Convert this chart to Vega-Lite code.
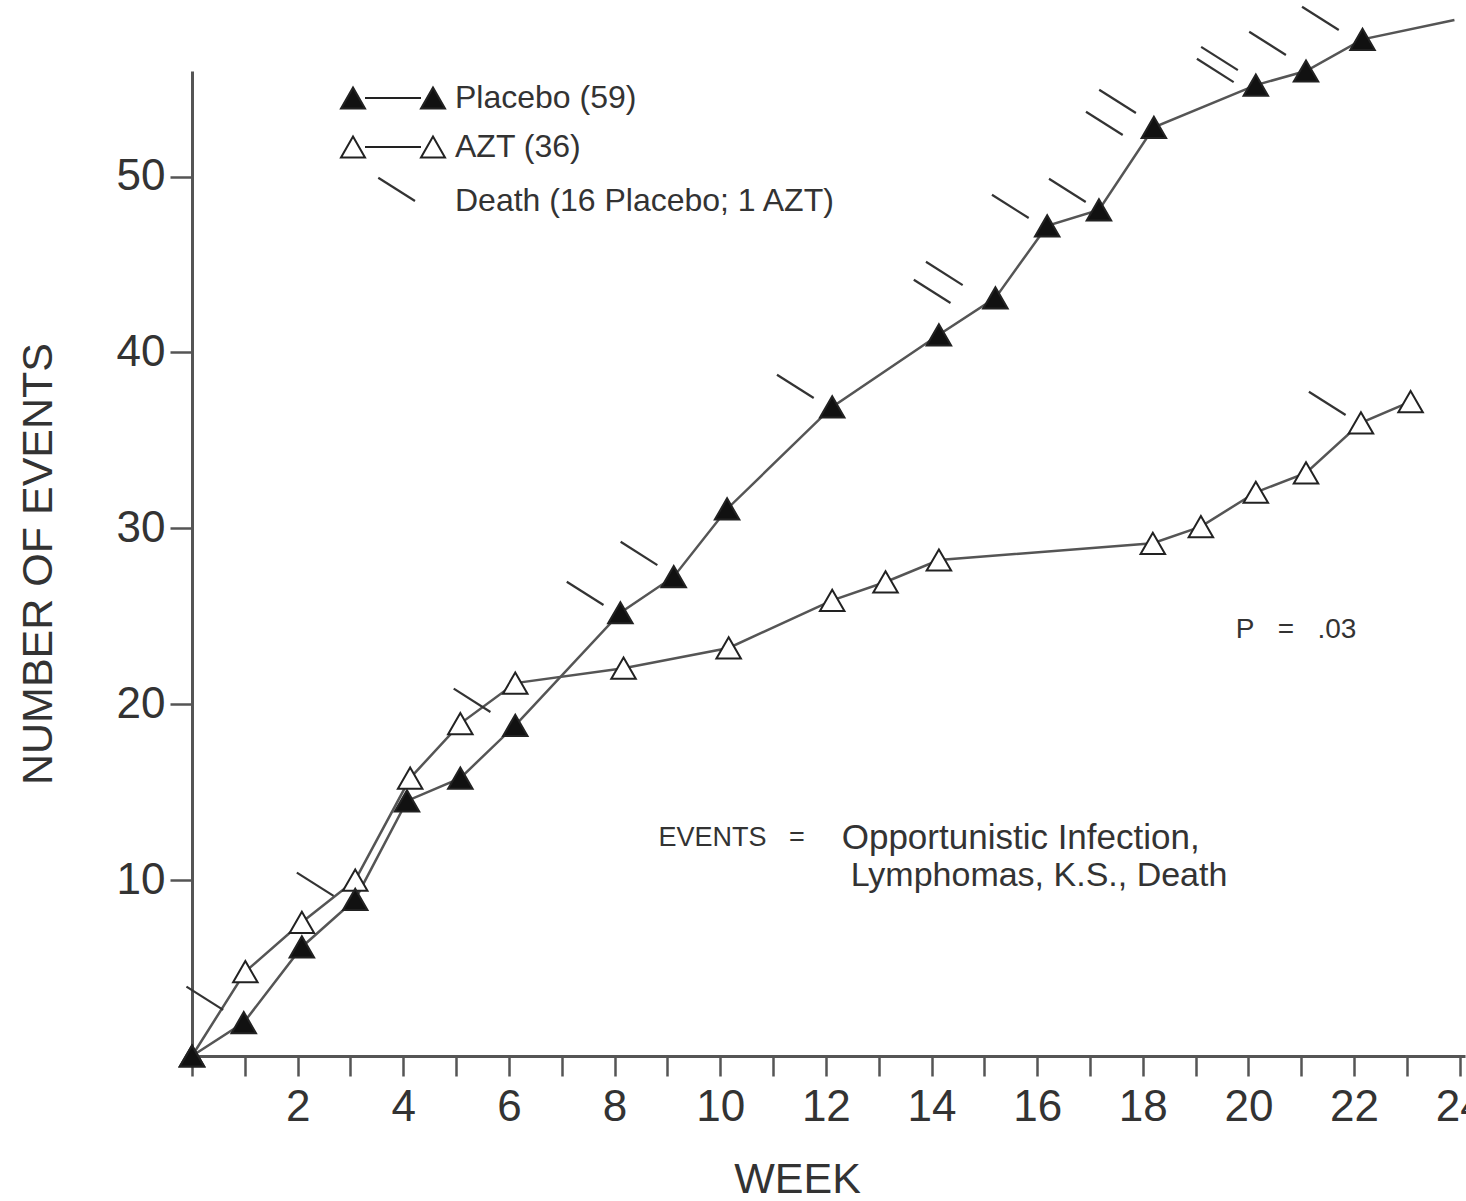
{
  "$schema": "https://vega.github.io/schema/vega-lite/v6.json",
  "width": 1273,
  "height": 985,
  "autosize": {"type": "none"},
  "padding": {"left": 192, "top": 71, "right": 1, "bottom": 145},
  "background": "white",
  "datasets": {
    "events": [
      {"series": "AZT (36)", "week": 0, "events": 0},
      {"series": "AZT (36)", "week": 1.01, "events": 4.8},
      {"series": "AZT (36)", "week": 2.08, "events": 7.6},
      {"series": "AZT (36)", "week": 3.09, "events": 10.0},
      {"series": "AZT (36)", "week": 4.13, "events": 15.8},
      {"series": "AZT (36)", "week": 5.08, "events": 18.9},
      {"series": "AZT (36)", "week": 6.12, "events": 21.2},
      {"series": "AZT (36)", "week": 8.17, "events": 22.05},
      {"series": "AZT (36)", "week": 10.16, "events": 23.2},
      {"series": "AZT (36)", "week": 12.12, "events": 25.9},
      {"series": "AZT (36)", "week": 13.13, "events": 26.95},
      {"series": "AZT (36)", "week": 14.14, "events": 28.2},
      {"series": "AZT (36)", "week": 18.19, "events": 29.15},
      {"series": "AZT (36)", "week": 19.1, "events": 30.1},
      {"series": "AZT (36)", "week": 20.14, "events": 32.05},
      {"series": "AZT (36)", "week": 21.09, "events": 33.15},
      {"series": "AZT (36)", "week": 22.13, "events": 36.0},
      {"series": "AZT (36)", "week": 23.07, "events": 37.2},
      {"series": "Placebo (59)", "week": 0, "events": 0},
      {"series": "Placebo (59)", "week": 0.98, "events": 1.9},
      {"series": "Placebo (59)", "week": 2.08, "events": 6.2},
      {"series": "Placebo (59)", "week": 3.09, "events": 8.9},
      {"series": "Placebo (59)", "week": 4.07, "events": 14.5},
      {"series": "Placebo (59)", "week": 5.08, "events": 15.8},
      {"series": "Placebo (59)", "week": 6.12, "events": 18.8},
      {"series": "Placebo (59)", "week": 8.11, "events": 25.2},
      {"series": "Placebo (59)", "week": 9.12, "events": 27.25},
      {"series": "Placebo (59)", "week": 10.13, "events": 31.1},
      {"series": "Placebo (59)", "week": 12.12, "events": 36.9},
      {"series": "Placebo (59)", "week": 14.14, "events": 41.0},
      {"series": "Placebo (59)", "week": 15.21, "events": 43.1},
      {"series": "Placebo (59)", "week": 16.19, "events": 47.2},
      {"series": "Placebo (59)", "week": 17.17, "events": 48.1},
      {"series": "Placebo (59)", "week": 18.21, "events": 52.8},
      {"series": "Placebo (59)", "week": 20.14, "events": 55.2},
      {"series": "Placebo (59)", "week": 21.09, "events": 56.0},
      {"series": "Placebo (59)", "week": 22.16, "events": 57.8},
      {"series": "Placebo (59)", "week": 23.9, "events": 58.9}
    ],
    "deaths": [
      {"type": "Death (16 Placebo; 1 AZT)", "arm": "Placebo", "week": 0.59, "events": 2.62},
      {"type": "Death (16 Placebo; 1 AZT)", "arm": "Placebo", "week": 2.68, "events": 9.1},
      {"type": "Death (16 Placebo; 1 AZT)", "arm": "Placebo", "week": 5.65, "events": 19.56},
      {"type": "Death (16 Placebo; 1 AZT)", "arm": "Placebo", "week": 7.79, "events": 25.64},
      {"type": "Death (16 Placebo; 1 AZT)", "arm": "Placebo", "week": 8.81, "events": 27.91},
      {"type": "Death (16 Placebo; 1 AZT)", "arm": "Placebo", "week": 11.77, "events": 37.41},
      {"type": "Death (16 Placebo; 1 AZT)", "arm": "Placebo", "week": 14.59, "events": 43.83},
      {"type": "Death (16 Placebo; 1 AZT)", "arm": "Placebo", "week": 14.36, "events": 42.81},
      {"type": "Death (16 Placebo; 1 AZT)", "arm": "Placebo", "week": 15.84, "events": 47.64},
      {"type": "Death (16 Placebo; 1 AZT)", "arm": "Placebo", "week": 16.92, "events": 48.55},
      {"type": "Death (16 Placebo; 1 AZT)", "arm": "Placebo", "week": 17.87, "events": 53.61},
      {"type": "Death (16 Placebo; 1 AZT)", "arm": "Placebo", "week": 17.62, "events": 52.36},
      {"type": "Death (16 Placebo; 1 AZT)", "arm": "Placebo", "week": 19.8, "events": 56.05},
      {"type": "Death (16 Placebo; 1 AZT)", "arm": "Placebo", "week": 19.72, "events": 55.37},
      {"type": "Death (16 Placebo; 1 AZT)", "arm": "Placebo", "week": 20.71, "events": 56.91},
      {"type": "Death (16 Placebo; 1 AZT)", "arm": "Placebo", "week": 21.71, "events": 58.33},
      {"type": "Death (16 Placebo; 1 AZT)", "arm": "AZT", "week": 21.84, "events": 36.44}
    ]
  },
  "layer": [
    {
      "data": {"name": "events"},
      "mark": {"type": "line", "color": "#555555", "strokeWidth": 2.5},
      "encoding": {
        "x": {"field": "week", "type": "quantitative", "scale": {"domain": [0, 24.1], "nice": false, "zero": false},
          "axis": {
            "values": [0,1,2,3,4,5,6,7,8,9,10,11,12,13,14,15,16,17,18,19,20,21,22,23,24],
            "labelExpr": "datum.value > 0 && datum.value % 2 == 0 ? datum.label : ''",
            "tickSize": 20, "labelPadding": 9, "labelFlush": false, "labelOverlap": false,
            "title": "WEEK", "titlePadding": 29, "titleX": 605
          }},
        "y": {"field": "events", "type": "quantitative", "scale": {"domain": [0, 56], "nice": false},
          "axis": {
            "values": [10, 20, 30, 40, 50],
            "tickSize": 22, "labelPadding": 5,
            "title": "NUMBER OF EVENTS", "titlePadding": 56
          }},
        "detail": {"field": "series"}
      }
    },
    {
      "data": {"name": "deaths"},
      "mark": {"type": "point", "filled": false, "stroke": "#333333", "strokeWidth": 2.2, "size": 576, "opacity": 1},
      "encoding": {
        "x": {"field": "week", "type": "quantitative"},
        "y": {"field": "events", "type": "quantitative"},
        "shape": {"field": "type", "type": "nominal",
          "scale": {"range": ["M0,0L-3.06,-1.94"]},
          "legend": {
            "orient": "none", "legendX": 207, "legendY": 114, "title": null,
            "symbolSize": 576, "symbolStrokeWidth": 2.2, "symbolStrokeColor": "#333333",
            "labelOffset": 24, "labelLimit": 1000, "padding": 0
          }}
      }
    },
    {
      "data": {"name": "events"},
      "transform": [{"filter": "datum.week < 23.5"}],
      "mark": {"type": "point", "shape": "triangle-up", "filled": true, "size": 600, "stroke": "#222222", "strokeWidth": 2, "opacity": 1},
      "encoding": {
        "x": {"field": "week", "type": "quantitative"},
        "y": {"field": "events", "type": "quantitative"},
        "fill": {"field": "series", "type": "nominal",
          "scale": {"domain": ["Placebo (59)", "AZT (36)"], "range": ["#111111", "#ffffff"]},
          "legend": {
            "orient": "none", "legendX": 185, "legendY": 11, "title": null,
            "symbolType": "M-3.333,-0.866L-2.333,0.866L-4.333,0.866Z M-2.333,0L2.333,0 M3.333,-0.866L4.333,0.866L2.333,0.866Z",
            "symbolSize": 576, "symbolStrokeWidth": 2, "symbolStrokeColor": "#222222",
            "labelOffset": 46, "rowPadding": 17, "labelLimit": 1000, "padding": 0,
            "encode": {"symbols": {"update": {
              "shape": {"value": "M-3.333,-0.866L-2.333,0.866L-4.333,0.866Z M-2.333,0L2.333,0 M3.333,-0.866L4.333,0.866L2.333,0.866Z"},
              "stroke": {"value": "#222222"}, "strokeWidth": {"value": 2}, "opacity": {"value": 1}}}}
          }}
      }
    },
    {
      "data": {"values": [{}]},
      "mark": {"type": "text", "text": "P\u00a0\u00a0\u00a0=\u00a0\u00a0\u00a0.03", "align": "left", "baseline": "middle", "font": "Liberation Sans", "fontSize": 28, "color": "#333333"},
      "encoding": {"x": {"datum": 19.76, "type": "quantitative"}, "y": {"datum": 24.2, "type": "quantitative"}}
    },
    {
      "data": {"values": [{}]},
      "mark": {"type": "text", "text": "EVENTS\u00a0\u00a0\u00a0=", "align": "left", "baseline": "middle", "font": "Liberation Sans", "fontSize": 27, "color": "#333333"},
      "encoding": {"x": {"datum": 8.83, "type": "quantitative"}, "y": {"datum": 12.4, "type": "quantitative"}}
    },
    {
      "data": {"values": [{}]},
      "mark": {"type": "text", "text": "Opportunistic Infection,", "align": "left", "baseline": "middle", "font": "Liberation Sans", "fontSize": 35, "color": "#333333"},
      "encoding": {"x": {"datum": 12.3, "type": "quantitative"}, "y": {"datum": 12.4, "type": "quantitative"}}
    },
    {
      "data": {"values": [{}]},
      "mark": {"type": "text", "text": "Lymphomas, K.S., Death", "align": "left", "baseline": "middle", "font": "Liberation Sans", "fontSize": 34, "color": "#333333"},
      "encoding": {"x": {"datum": 12.47, "type": "quantitative"}, "y": {"datum": 10.23, "type": "quantitative"}}
    }
  ],
  "config": {
    "view": {"stroke": null},
    "axis": {
      "grid": false,
      "domainColor": "#555555", "domainWidth": 3,
      "tickColor": "#555555", "tickWidth": 2.5,
      "labelFont": "Liberation Sans", "labelFontSize": 44, "labelColor": "#333333",
      "titleFont": "Liberation Sans", "titleFontSize": 43, "titleFontWeight": "normal", "titleColor": "#333333"
    },
    "legend": {
      "labelFont": "Liberation Sans", "labelFontSize": 32, "labelColor": "#333333",
      "padding": 0
    }
  }
}
